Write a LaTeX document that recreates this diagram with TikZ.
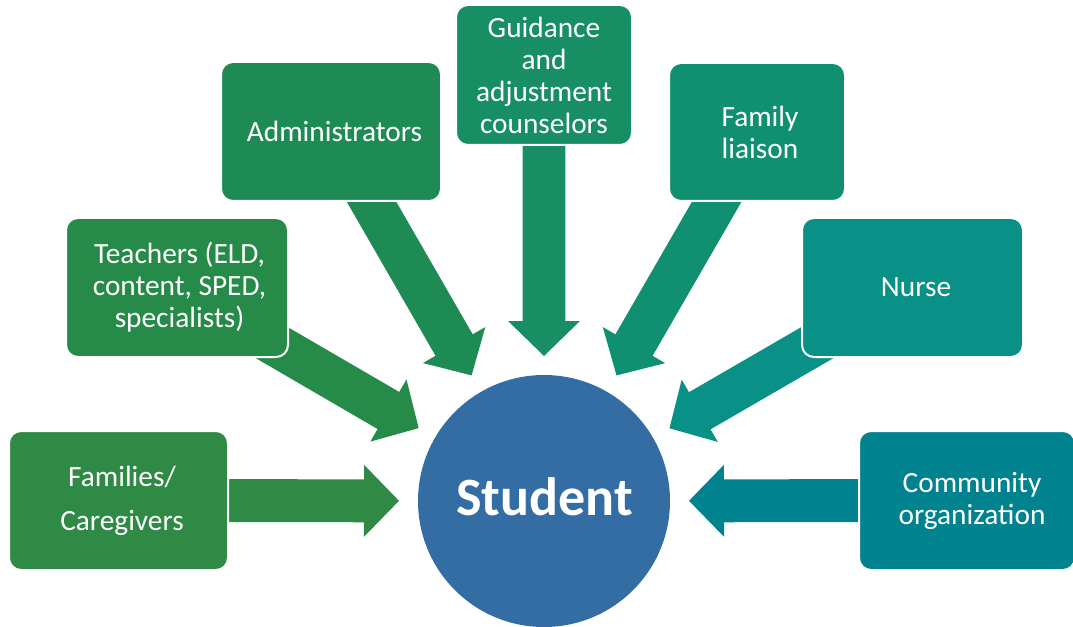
\documentclass[tikz,border=0pt]{standalone}
\usepackage{fontspec}
\setmainfont{Carlito}
\usetikzlibrary{calc}
\definecolor{cFam}{RGB}{46,138,69}
\definecolor{cTea}{RGB}{38,139,73}
\definecolor{cAdm}{RGB}{30,139,85}
\definecolor{cGui}{RGB}{23,142,99}
\definecolor{cLia}{RGB}{17,144,113}
\definecolor{cNur}{RGB}{9,144,135}
\definecolor{cCom}{RGB}{0,131,143}
\definecolor{cStu}{RGB}{52,109,164}
\pgfdeclarelayer{bg}
\pgfsetlayers{bg,main}
\newcommand\blockarr[2]{%
  \coordinate (tipP) at ($(stu.center)!108.75pt!(#1.center)$);
  \coordinate (baseP) at ($(tipP)!26.25pt!(#1.center)$);
  \fill[#2] ($(#1.center)!16.1pt!90:(tipP)$) -- ($(baseP)!16.1pt!90:(tipP)$)
    -- ($(baseP)!27pt!90:(tipP)$) -- (tipP) -- ($(baseP)!27pt!-90:(tipP)$)
    -- ($(baseP)!16.1pt!-90:(tipP)$) -- ($(#1.center)!16.1pt!-90:(tipP)$) -- cycle;
}
\tikzset{
  box/.style={draw=white, line width=1.5pt, rounded corners=9pt, minimum height=104.25pt},
  txt/.style={text=white, align=center, inner sep=0pt, font=\fontsize{22}{24}\selectfont},
}
\begin{document}
\begin{tikzpicture}[x=0.75pt, y=-0.75pt]
\useasboundingbox (0,0) rectangle (1073,627);
\node[box, fill=cFam, minimum width=164.25pt] (fam) at (118.5,500.5) {};
\node[box, fill=cTea, minimum width=166.5pt] (tea) at (177,287.5) {};
\node[box, fill=cAdm, minimum width=165pt] (adm) at (331,131.5) {};
\node[box, fill=cGui, minimum width=132pt, minimum height=105pt] (gui) at (544,75) {};
\node[box, fill=cLia, minimum width=132pt, minimum height=103.5pt] (lia) at (757,132) {};
\node[box, fill=cNur, minimum width=165.75pt] (nur) at (912.5,287.5) {};
\node[box, fill=cCom, minimum width=162pt] (com) at (967,500.5) {};
\node[txt, font=\fontsize{22}{33}\selectfont] (famT) at ($(fam)+(3.5,0)$) {Families/\\Caregivers};
\node[txt] (teaT) at ($(tea)+(2.5,0)$) {Teachers (ELD,\\content, SPED,\\specialists)};
\node[txt] (admT) at ($(adm)+(3.5,0)$) {Administrators};
\node[txt] (guiT) at (gui) {Guidance\\and\\adjustment\\counselors};
\node[txt] (liaT) at ($(lia)+(3,0)$) {Family\\liaison};
\node[txt] (nurT) at ($(nur)+(3.5,0)$) {Nurse};
\node[txt] (comT) at ($(com)+(5,0)$) {Community\\organization};
\node[circle, fill=cStu, minimum size=189pt, inner sep=0pt] (stu) at (544,501) {};
\node[text=white, inner sep=0pt, font=\bfseries\fontsize{40.5}{42}\selectfont] (stuT) at ($(stu)+(0.5,-4)$) {Student};
\begin{pgfonlayer}{bg}
\blockarr{fam}{cFam}
\blockarr{tea}{cTea}
\blockarr{adm}{cAdm}
\blockarr{gui}{cGui}
\blockarr{lia}{cLia}
\blockarr{nur}{cNur}
\blockarr{com}{cCom}
\end{pgfonlayer}
\end{tikzpicture}
\end{document}
